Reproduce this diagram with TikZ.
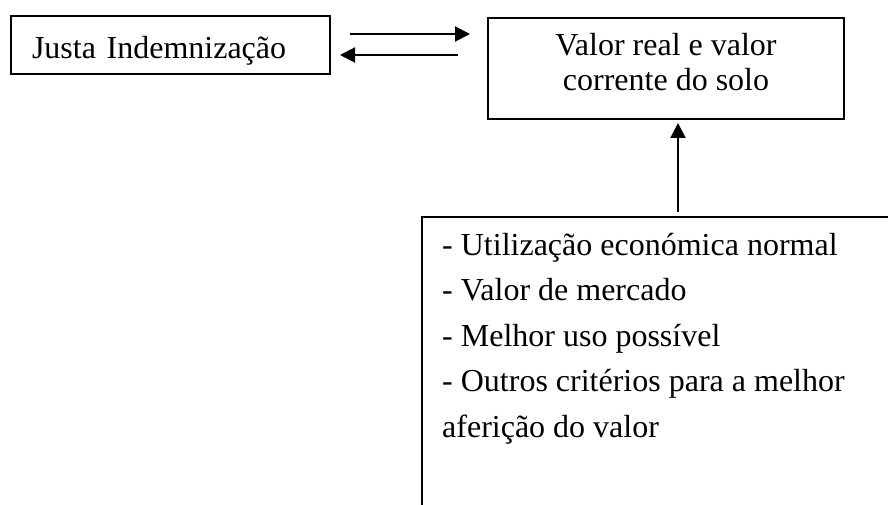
\documentclass[tikz,border=0pt]{standalone}
\usepackage{fontspec}
\setmainfont{Liberation Serif}
\usetikzlibrary{arrows.meta,calc}
\tikzset{
  boxstyle/.style={draw, line width=2pt, inner ysep=0pt},
  conn/.style={line width=2pt, -{Triangle[length=15pt,width=15pt]}},
  txt/.style={font=\fontsize{32}{35}\selectfont}
}
\begin{document}
\begin{tikzpicture}[x=1pt,y=-1pt]
\useasboundingbox (0,0) rectangle (888,505);
\node[boxstyle, txt, anchor=north west, minimum width=319pt, minimum height=58pt,
      text width=277pt, inner xsep=21pt, align=left, text height=29pt, text depth=1pt] (a) at (10,15)
      {Justa Indemnização};
\node[boxstyle, txt, anchor=north west, minimum width=356pt, minimum height=101pt,
      align=center, text depth=14pt] (b) at (487,17)
      {Valor real e valor\\corrente do solo};
\node[boxstyle, anchor=north west, minimum width=512pt, minimum height=340pt] (c) at (421,216) {};
\node[anchor=north west, inner sep=0pt, align=left,
      font=\fontsize{32}{45.5}\selectfont] (ct) at (442,233)
      {- Utilização económica normal\\
       - Valor de mercado\\
       - Melhor uso possível\\
       - Outros critérios para a melhor\\
       aferição do valor};
\draw[conn] ($(a.east)+(19,-11)$) -- ($(b.west |- a.east)+(-17,-11)$);
\draw[conn] ($(b.west |- a.east)+(-29,10)$) -- ($(a.east)+(9,10)$);
\draw[conn] ([yshift=4pt]c.north) -- ([yshift=-3pt]c.north |- b.south);
\end{tikzpicture}
\end{document}
